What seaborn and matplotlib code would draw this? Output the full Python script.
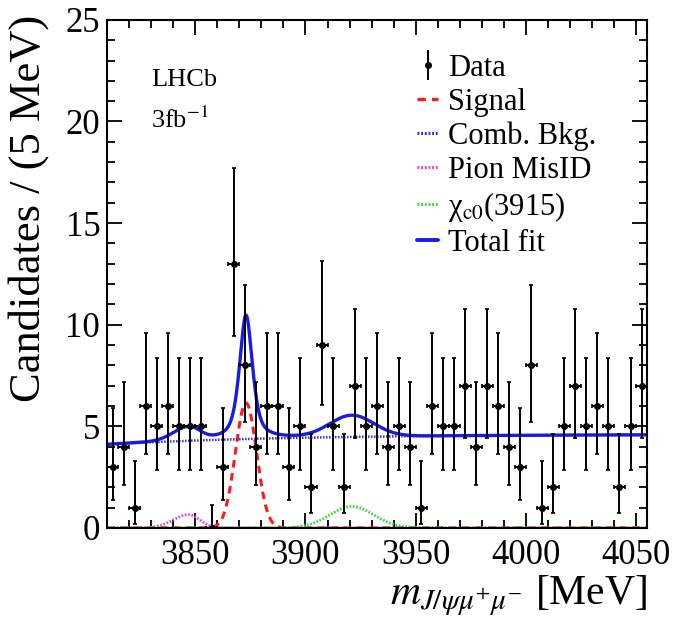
import math
import numpy as np
import matplotlib
matplotlib.use('Agg')
import matplotlib.pyplot as plt
from matplotlib.lines import Line2D
from matplotlib.ticker import MultipleLocator
import seaborn as sns

# counts per 5 MeV bin, 3810 - 4055 MeV
bin_lo = 3810
bin_width = 5
counts = [3, 4, 1, 6, 5, 6, 5, 5, 5, 0, 3, 13, 8, 4, 6, 6, 3, 5, 2, 9,
          5, 2, 7, 5, 6, 4, 5, 4, 1, 6, 5, 5, 7, 4, 7, 6, 4, 3, 8, 1,
          2, 5, 7, 5, 6, 5, 2, 5, 7]

# fit components (mean, width, height)
signal_par = [3873.0, 4.8, 6.15]            # gaussian
total_peak_par = [3873.0, 7.0, 6.1]          # narrow peak in total fit (fwhm)
misid_par = [3847.0, 7.0, 5.0, 0.65]         # mean, sigma left, sigma right, height
chic0_par = [3921.0, 10.0, 1.05]
comb_par = [4.6, 0.5, 80.0]                  # plateau, drop at 3810, scale

labels = ['Data', 'Signal', 'Comb. Bkg.', 'Pion MisID',
          'χ$_{\\mathrm{c0}}$(3915)', 'Total fit']

sns.set_theme(style='ticks')
plt.rcParams['font.family'] = ['Liberation Serif', 'DejaVu Serif']
plt.rcParams['mathtext.fontset'] = 'stix'
plt.rcParams['text.color'] = 'black'
plt.rcParams['axes.labelcolor'] = 'black'
plt.rcParams['xtick.color'] = 'black'
plt.rcParams['ytick.color'] = 'black'


def pois_cdf(n, mu):
    return sum(math.exp(-mu) * mu**k / math.factorial(k) for k in range(n + 1))


def bisect(f, lo, hi):
    for _ in range(80):
        mid = 0.5 * (lo + hi)
        if f(lo) * f(mid) <= 0:
            hi = mid
        else:
            lo = mid
    return 0.5 * (lo + hi)


# poisson 68% intervals, like RooFit draws them
alpha = 0.158655
err_lo, err_hi = [], []
for n in counts:
    if n == 0:
        up = -math.log(2 * alpha)
        lo = 0.0
    else:
        up = bisect(lambda m: pois_cdf(n, m) - alpha, n, n + 30)
        lo = bisect(lambda m: pois_cdf(n - 1, m) - (1 - alpha), 0.0, n)
    err_lo.append(n - lo)
    err_hi.append(up - n)

centers = bin_lo + bin_width * (np.arange(len(counts)) + 0.5)
x_max = bin_lo + bin_width * len(counts)

xs = np.linspace(bin_lo, x_max, 1500)


def gauss(x, m, s, h):
    return h * np.exp(-0.5 * ((x - m) / s) ** 2)


sig = gauss(xs, *signal_par)
comb = comb_par[0] - comb_par[1] * np.exp(-(xs - bin_lo) / comb_par[2])
m, sl, sr, h = misid_par
misid = np.where(xs < m, gauss(xs, m, sl, h), gauss(xs, m, sr, h))
chic0 = gauss(xs, *chic0_par)
pm, fw, ph = total_peak_par
peak = ph * (0.6 / (1 + (2 * (xs - pm) / fw) ** 2) + 0.4 * np.exp(-0.5 * ((xs - pm) / (fw / 2.355)) ** 2))
total = comb + misid + chic0 + peak

fig, ax = plt.subplots(figsize=(6.74, 6.21), dpi=100)
fig.subplots_adjust(left=0.159, right=0.960, top=0.968, bottom=0.150)

sns.lineplot(x=xs, y=sig, ax=ax, color='#ff1a1a', lw=2.2, linestyle=(0, (2.5, 1.8)))
sns.lineplot(x=xs, y=misid, ax=ax, color='#e040e0', lw=2.0, linestyle=(0, (0.6, 0.6)))
sns.lineplot(x=xs, y=chic0, ax=ax, color='#33dd33', lw=2.0, linestyle=(0, (0.6, 0.6)))
sns.lineplot(x=xs, y=comb, ax=ax, color='#3030d0', lw=1.8, linestyle=(0, (0.6, 0.6)))
sns.lineplot(x=xs, y=total, ax=ax, color='#1a1ae6', lw=2.4)

ax.errorbar(centers, counts, xerr=bin_width / 2, yerr=[err_lo, err_hi], fmt='o',
            color='black', ms=4, elinewidth=1.4, capsize=1.5, capthick=1.2, zorder=5)

ax.set_xlim(bin_lo, x_max)
ax.set_ylim(0, 25)
ax.xaxis.set_major_locator(MultipleLocator(50))
ax.xaxis.set_minor_locator(MultipleLocator(10))
ax.yaxis.set_major_locator(MultipleLocator(5))
ax.yaxis.set_minor_locator(MultipleLocator(1))
ax.tick_params(which='both', direction='in', top=True, right=True, width=1.3, labelsize=25,
               color='black', labelcolor='black')
ax.tick_params(which='major', length=11)
ax.tick_params(which='minor', length=6)
ax.tick_params(axis='x', pad=8)
ax.tick_params(axis='y', pad=5)
for s in ax.spines.values():
    s.set_linewidth(1.5)
    s.set_color('black')

ylab = ax.set_ylabel('Candidates / (5 MeV)', fontsize=32)
ylab.set_rotation_mode('anchor')
ylab.set_ha('right')
ylab.set_va('bottom')
ax.yaxis.set_label_coords(-0.108, 1.01)
ax.set_xlabel(r'$m_{J/\psi\mu^{+}\mu^{-}}$ [MeV]', fontsize=30, loc='right')
ax.xaxis.set_label_coords(1.0, -0.09)

ax.text(0.082, 0.882, 'LHCb', transform=ax.transAxes, fontsize=19, va='center')
ax.text(0.082, 0.803, r'3fb$^{-1}$', transform=ax.transAxes, fontsize=19, va='center')

data_h = ax.errorbar([np.nan], [np.nan], yerr=[1], fmt='o', color='black', ms=4,
                     elinewidth=1.4, capsize=0)
handles = [data_h,
           Line2D([], [], color='#ff1a1a', lw=2.4, linestyle=(0, (2.5, 1.8))),
           Line2D([], [], color='#3030d0', lw=2.2, linestyle=(0, (0.6, 0.6))),
           Line2D([], [], color='#e040e0', lw=2.2, linestyle=(0, (0.6, 0.6))),
           Line2D([], [], color='#33dd33', lw=2.2, linestyle=(0, (0.6, 0.6))),
           Line2D([], [], color='#1a1ae6', lw=2.8)]
ax.legend(handles, labels, loc='upper left', bbox_to_anchor=(0.574, 0.933), frameon=False,
          fontsize=22, handlelength=0.7, handletextpad=0.3, labelspacing=0.16, borderpad=0.0,
          borderaxespad=0.0)

fig.savefig('out.png', dpi=100)
